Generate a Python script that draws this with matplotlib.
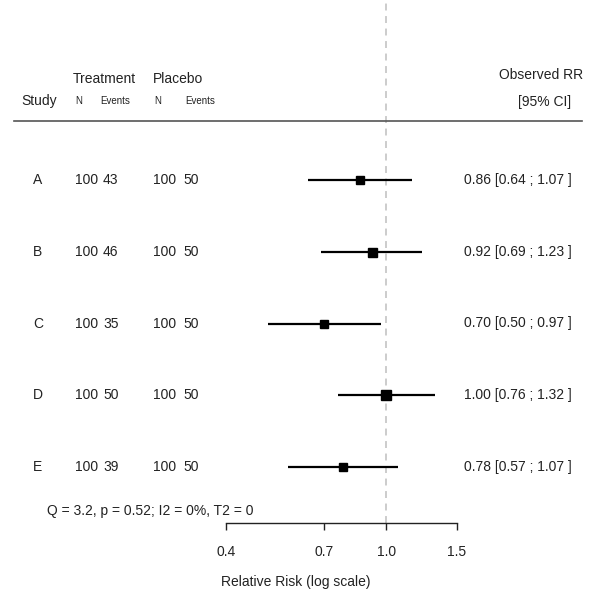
import matplotlib
matplotlib.use('Agg')
import matplotlib.pyplot as plt
from matplotlib.transforms import Affine2D, blended_transform_factory
from matplotlib.lines import Line2D

studies = ['A', 'B', 'C', 'D', 'E']
trt_n = [100, 100, 100, 100, 100]
trt_events = [43, 46, 35, 50, 39]
pbo_n = [100, 100, 100, 100, 100]
pbo_events = [50, 50, 50, 50, 50]
rr = [0.86, 0.92, 0.70, 1.00, 0.78]
ci_lo = [0.64, 0.69, 0.51, 0.76, 0.57]
ci_hi = [1.16, 1.23, 0.97, 1.32, 1.07]   # as drawn
ci_labels = ['0.86 [0.64 ; 1.07 ]', '0.92 [0.69 ; 1.23 ]', '0.70 [0.50 ; 0.97 ]',
             '1.00 [0.76 ; 1.32 ]', '0.78 [0.57 ; 1.07 ]']
box_px = [8, 9, 8, 10, 8]
xticks = [0.4, 0.7, 1.0, 1.5]
stats = 'Q = 3.2, p = 0.52; I2 = 0%, T2 = 0'

plt.rcParams['font.family'] = ['Liberation Sans', 'DejaVu Sans']
plt.rcParams['lines.scale_dashes'] = False
txt = '#222222'
fs = 10
fs_small = 7

W, H = 600, 605
fig = plt.figure(figsize=(W / 100, H / 100), dpi=100)
px = Affine2D().scale(1 / W, -1 / H).translate(0, 1) + fig.transFigure

# forest panel, log x
ax = fig.add_axes([226 / W, 1 - 523 / H, (457 - 226) / W, 523 / H])
ax.set_xscale('log')
ax.set_xlim(0.4, 1.5)
rows = list(range(len(studies), 0, -1))
ax.set_ylim(1 - (523 - 467) / 71.75, 5 + 180 / 71.75)

ax.axvline(1.0, color='#c8c8c8', lw=1.3, linestyle=(0, (5, 4)), zorder=1)
for y, m, lo, hi, s in zip(rows, rr, ci_lo, ci_hi, box_px):
    ax.plot([lo, hi], [y, y], color='black', lw=1.6, solid_capstyle='butt', zorder=2, clip_on=False)
    ax.plot([m], [y], marker='s', color='black', markersize=s * 0.72, zorder=3, clip_on=False)

for sp in ['top', 'left', 'right']:
    ax.spines[sp].set_visible(False)
ax.spines['bottom'].set_color('#222222')
ax.spines['bottom'].set_linewidth(1.0)
ax.set_yticks([])
ax.set_xticks(xticks)
ax.set_xticklabels(['%.1f' % v for v in xticks])
ax.minorticks_off()
ax.tick_params(axis='x', direction='out', length=5, width=1.0, pad=10.5,
               labelsize=fs, colors=txt)
ax.patch.set_visible(False)

# text columns
rowtr = blended_transform_factory(px, ax.transData)
for y, st, tn, te, pn, pe, lab in zip(rows, studies, trt_n, trt_events, pbo_n, pbo_events, ci_labels):
    ax.text(38, y, st, transform=rowtr, ha='center', va='center', fontsize=fs, color=txt)
    ax.text(75, y, str(tn), transform=rowtr, ha='left', va='center', fontsize=fs, color=txt)
    ax.text(103, y, str(te), transform=rowtr, ha='left', va='center', fontsize=fs, color=txt)
    ax.text(153, y, str(pn), transform=rowtr, ha='left', va='center', fontsize=fs, color=txt)
    ax.text(183, y, str(pe), transform=rowtr, ha='left', va='center', fontsize=fs, color=txt)
    ax.text(572, y, lab, transform=rowtr, ha='right', va='center', fontsize=fs, color=txt)

# headers
fig.text(21, 101, 'Study', transform=px, ha='left', va='center', fontsize=fs, color=txt)
fig.text(73, 79, 'Treatment', transform=px, ha='left', va='center', fontsize=fs, color=txt)
fig.text(153, 79, 'Placebo', transform=px, ha='left', va='center', fontsize=fs, color=txt)
fig.text(75, 101, 'N', transform=px, ha='left', va='center', fontsize=fs_small, color=txt)
fig.text(100, 101, 'Events', transform=px, ha='left', va='center', fontsize=fs_small, color=txt)
fig.text(154, 101, 'N', transform=px, ha='left', va='center', fontsize=fs_small, color=txt)
fig.text(185, 101, 'Events', transform=px, ha='left', va='center', fontsize=fs_small, color=txt)
fig.text(583, 75, 'Observed RR', transform=px, ha='right', va='center', fontsize=fs, color=txt)
fig.text(571, 102, '[95% CI]', transform=px, ha='right', va='center', fontsize=fs, color=txt)
fig.add_artist(Line2D([14, 582], [121, 121], transform=px, color='#555555', lw=1.2))

fig.text(47, 511, stats, transform=px, ha='left', va='center', fontsize=fs, color=txt)
fig.text(296, 582, 'Relative Risk (log scale)', transform=px, ha='center', va='center',
         fontsize=fs, color=txt)

fig.savefig('out.png', dpi=100, facecolor='white')
